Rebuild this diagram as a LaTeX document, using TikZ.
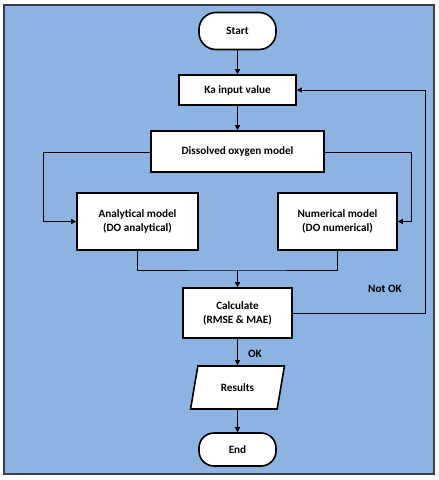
\documentclass[tikz,border=0pt]{standalone}
\usepackage{fontspec}
\setmainfont{Carlito}
\usetikzlibrary{arrows.meta,shapes.geometric}
\definecolor{bgblue}{HTML}{8DB3E2}
\definecolor{framegray}{HTML}{3A3F47}
\begin{document}
\begin{tikzpicture}[x=1pt,y=-1pt,
  box/.style={draw=black,fill=white,line width=1.6pt,minimum width=#1,align=center,font=\bfseries\fontsize{11.2}{14}\selectfont,inner sep=0pt},
  term/.style={box=77pt,minimum height=37pt,rounded corners=17pt},
  flow/.style={line width=0.9pt,-{Triangle[length=5pt,width=5pt]}},
  seg/.style={line width=0.9pt},
  lbl/.style={font=\bfseries\fontsize{11.2}{13}\selectfont}]
\useasboundingbox (0,0) rectangle (439,480);
\draw[framegray,fill=bgblue,line width=1.4pt] (4,5) rectangle (434,474);
\node[term] (start) at (237.5,31) {Start};
\node[box=117pt,minimum height=30pt] (ka) at (237.5,90) {Ka input value};
\node[box=173pt,minimum height=41pt] (dom) at (237.5,151.5) {Dissolved oxygen model};
\node[box=121pt,minimum height=57pt] (ana) at (137.5,221.5) {Analytical model\\(DO analytical)};
\node[box=119pt,minimum height=57pt] (num) at (337.5,221.5) {Numerical model\\(DO numerical)};
\node[box=109pt,minimum height=50pt] (calc) at (237.5,313) {Calculate\\(RMSE \& MAE)};
\node[trapezium,trapezium left angle=69,trapezium right angle=111,trapezium stretches=true,draw=black,fill=white,line width=1.6pt,
  minimum width=94pt,minimum height=43pt,inner sep=0pt,font=\bfseries\fontsize{11.2}{13}\selectfont] (res) at (237.5,387.5) {Results};
\node[term,minimum height=33pt,rounded corners=15pt] (end) at (237.5,449.5) {End};
\coordinate (jn) at (237.5,270);
\coordinate (lc) at (43,152);
\coordinate (rc) at (411,152);
\coordinate (fb) at (425,313);
\draw[flow] (start) -- (ka);
\draw[flow] (ka) -- (dom);
\draw[flow] (dom.west |- lc) -| (43,221.5) -- (ana.west);
\draw[flow] (dom.east |- rc) -| (411,221.5) -- (num.east);
\draw[seg] (ana.south) |- (jn) -| (num.south);
\draw[flow] (jn) -- (calc.north);
\draw[flow] (calc.east) -- (fb) |- (ka.east);
\draw[flow] (calc) -- (res);
\draw[flow] (res) -- (end);
\node[lbl] (notok) at (385,288.5) {Not OK};
\node[lbl] (ok) at (255,353.5) {OK};
\end{tikzpicture}
\end{document}
